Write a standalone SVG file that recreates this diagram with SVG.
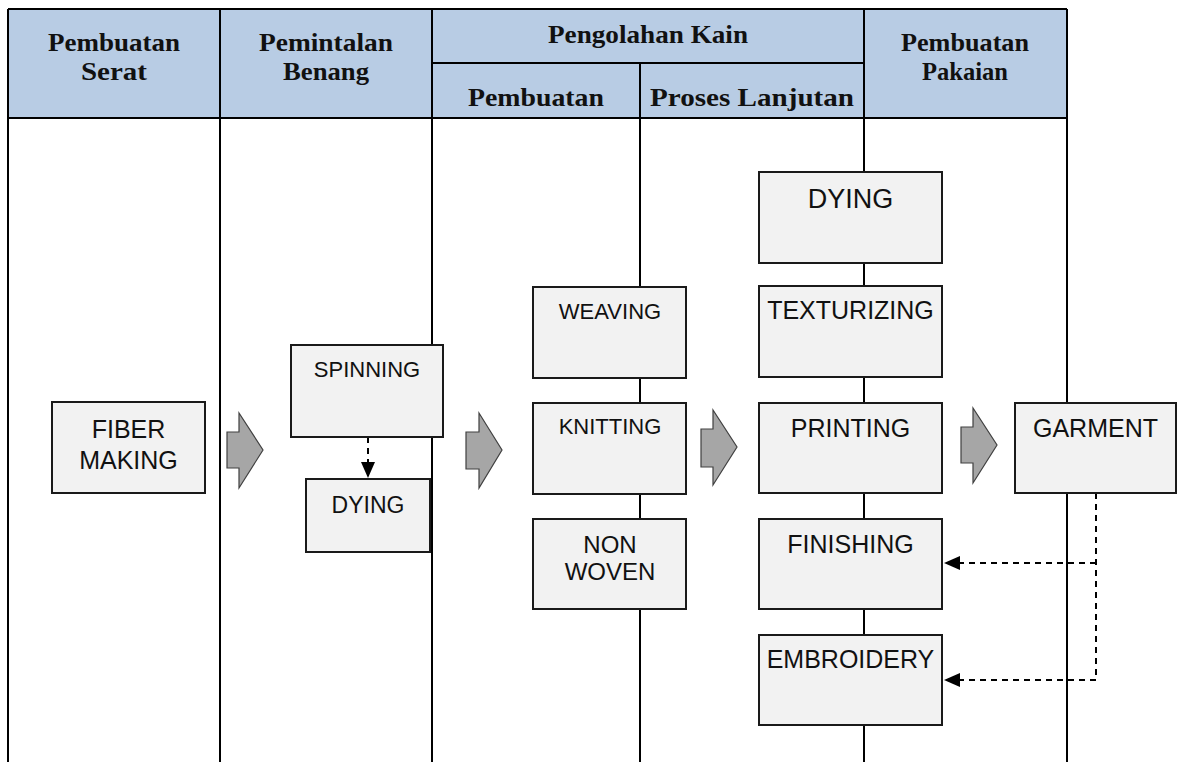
<svg xmlns="http://www.w3.org/2000/svg" width="1178" height="770" viewBox="0 0 1178 770">
<style>
.hdr{fill:#b8cce4;stroke:none}
.grid{stroke:#000;stroke-width:2;fill:none}
.ht{font-family:"Liberation Serif",serif;font-weight:bold;font-size:25px;fill:#111;text-anchor:middle}
.box{fill:#f2f2f2;stroke:#1a1a1a;stroke-width:2}
.bt{font-family:"Liberation Sans",Arial,sans-serif;font-size:25px;fill:#111;text-anchor:middle}
.sm{font-size:22px}
.blk{fill:#a6a6a6;stroke:#404040;stroke-width:1.2}
.dash{stroke:#000;stroke-width:2;fill:none;stroke-dasharray:6 5}
</style>
<defs>
<marker id="ah" viewBox="0 0 16 14" refX="16" refY="7" markerWidth="16" markerHeight="14" markerUnits="userSpaceOnUse" orient="auto">
<path d="M0,0 L16,7 L0,14 Z" fill="#000"/>
</marker>
</defs>
<rect width="1178" height="770" fill="#fff"/>
<g id="header">
<rect class="hdr" x="8" y="9" width="1059" height="109"/>
<path class="grid" d="M8,9 H1067 M432,63 H864 M8,118 H1067"/>
<text class="ht" x="114" y="51" textLength="132" lengthAdjust="spacingAndGlyphs">Pembuatan</text>
<text class="ht" x="114" y="80" textLength="66" lengthAdjust="spacingAndGlyphs">Serat</text>
<text class="ht" x="326" y="51" textLength="134" lengthAdjust="spacingAndGlyphs">Pemintalan</text>
<text class="ht" x="326" y="80" textLength="86" lengthAdjust="spacingAndGlyphs">Benang</text>
<text class="ht" x="648" y="43" textLength="200" lengthAdjust="spacingAndGlyphs">Pengolahan Kain</text>
<text class="ht" x="536" y="106" textLength="136" lengthAdjust="spacingAndGlyphs">Pembuatan</text>
<text class="ht" x="752" y="106" textLength="204" lengthAdjust="spacingAndGlyphs">Proses Lanjutan</text>
<text class="ht" x="965" y="51" textLength="128" lengthAdjust="spacingAndGlyphs">Pembuatan</text>
<text class="ht" x="965" y="80" textLength="86" lengthAdjust="spacingAndGlyphs">Pakaian</text>
</g>
<g id="lanes">
<path class="grid" d="M8,9 V762 M220,9 V762 M432,9 V762 M640,63 V762 M864,9 V762 M1067,9 V762"/>
</g>
<g id="connectors">
<path class="dash" d="M368,437 V478" marker-end="url(#ah)"/>
<path class="dash" d="M1096,493 V680 H944" marker-end="url(#ah)"/>
<path class="dash" d="M1096,563 H944" marker-end="url(#ah)"/>
<path class="blk" d="M227,432 H239 V413 L263,450 L239,488 V468 H227 Z"/>
<path class="blk" d="M466,432 H479 V413 L502,450 L479,488 V469 H466 Z"/>
<path class="blk" d="M701,429 H713 V410 L737,447 L713,485 V467 H701 Z"/>
<path class="blk" d="M961,427 H973 V408 L997,445 L973,483 V463 H961 Z"/>
</g>
<g id="fiber-making">
<rect class="box" x="52" y="402" width="153" height="91"/>
<text class="bt" x="128.5" y="438">FIBER</text>
<text class="bt" x="128.5" y="469">MAKING</text>
</g>
<g id="spinning">
<rect class="box" x="291" y="345" width="152" height="92"/>
<text class="bt sm" x="367" y="377">SPINNING</text>
</g>
<g id="dying-yarn">
<rect class="box" x="306" y="479" width="124" height="73"/>
<text class="bt" x="368" y="513" style="font-size:23px">DYING</text>
</g>
<g id="weaving">
<rect class="box" x="533" y="287" width="153" height="91"/>
<text class="bt sm" x="610" y="319">WEAVING</text>
</g>
<g id="knitting">
<rect class="box" x="533" y="403" width="153" height="91"/>
<text class="bt sm" x="610" y="434">KNITTING</text>
</g>
<g id="non-woven">
<rect class="box" x="533" y="519" width="153" height="90"/>
<text class="bt" x="610" y="553" style="font-size:24px">NON</text>
<text class="bt" x="610" y="580" style="font-size:24px">WOVEN</text>
</g>
<g id="dying-fabric">
<rect class="box" x="759" y="172" width="183" height="91"/>
<text class="bt" x="850.5" y="208" style="font-size:27px">DYING</text>
</g>
<g id="texturizing">
<rect class="box" x="759" y="286" width="183" height="91"/>
<text class="bt" x="850.5" y="319">TEXTURIZING</text>
</g>
<g id="printing">
<rect class="box" x="759" y="403" width="183" height="90"/>
<text class="bt" x="850.5" y="437">PRINTING</text>
</g>
<g id="finishing">
<rect class="box" x="759" y="519" width="183" height="90"/>
<text class="bt" x="850.5" y="553">FINISHING</text>
</g>
<g id="embroidery">
<rect class="box" x="759" y="635" width="183" height="90"/>
<text class="bt" x="850.5" y="668">EMBROIDERY</text>
</g>
<g id="garment">
<rect class="box" x="1015" y="403" width="161" height="90"/>
<text class="bt" x="1095.5" y="437">GARMENT</text>
</g>
</svg>
